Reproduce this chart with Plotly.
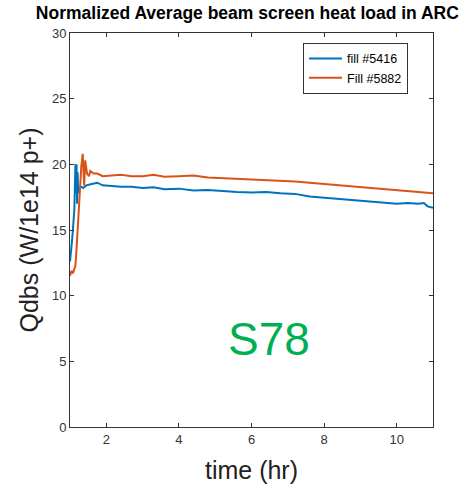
import plotly.graph_objects as go

t_5416 = [1.00, 1.03, 1.06, 1.09, 1.12, 1.15, 1.165, 1.18, 1.195, 1.21, 1.225, 1.25, 1.30, 1.36,
          1.45, 1.60, 1.75, 1.90, 2.10, 2.40, 2.70, 3.00, 3.30, 3.60, 4.00, 4.40, 4.80, 5.20,
          5.60, 6.00, 6.40, 6.80, 7.20, 7.60, 8.00, 8.40, 8.80, 9.20, 9.60, 10.00, 10.30,
          10.60, 10.75, 10.85, 11.00]
q_5416 = [12.6, 13.3, 14.3, 15.4, 16.6, 20.0, 17.8, 20.0, 17.0, 19.4, 17.8, 18.2, 18.3, 18.2,
          18.4, 18.5, 18.6, 18.4, 18.35, 18.3, 18.3, 18.2, 18.25, 18.1, 18.15, 18.0, 18.05,
          17.95, 17.9, 17.85, 17.9, 17.8, 17.75, 17.55, 17.45, 17.35, 17.25, 17.2, 17.1, 17.0,
          17.05, 17.0, 17.05, 16.8, 16.7]

t_5882 = [1.00, 1.04, 1.08, 1.12, 1.15, 1.19, 1.23, 1.27, 1.31, 1.35, 1.39, 1.42, 1.47, 1.52,
          1.56, 1.65, 1.75, 1.90, 2.10, 2.40, 2.70, 3.00, 3.30, 3.60, 4.00, 4.40, 4.80, 5.20,
          5.60, 6.00, 6.40, 6.80, 7.20, 7.60, 8.00, 8.40, 8.80, 9.20, 9.60, 10.00, 10.40,
          10.70, 11.00]
q_5882 = [11.5, 11.9, 11.7, 12.0, 12.3, 14.0, 16.1, 18.3, 19.8, 20.8, 18.4, 20.3, 19.3, 19.1,
          19.5, 19.3, 19.3, 19.1, 19.15, 19.2, 19.1, 19.1, 19.2, 19.05, 19.1, 19.15, 19.0,
          18.95, 18.9, 18.85, 18.85, 18.75, 18.7, 18.6, 18.5, 18.4, 18.35, 18.2, 18.1, 18.0,
          17.95, 17.85, 17.8]

x_ticks = [2, 4, 6, 8, 10]
y_ticks = [0, 5, 10, 15, 20, 25, 30]

FONT = "Arial, Liberation Sans"

fig = go.Figure()
fig.add_trace(go.Scatter(x=t_5416, y=q_5416, mode="lines", name="fill #5416",
                         line=dict(color="#0072BD", width=2)))
fig.add_trace(go.Scatter(x=t_5882, y=q_5882, mode="lines", name="Fill #5882",
                         line=dict(color="#D95319", width=2)))

fig.add_annotation(x=6.49, y=6.67, text="S78", showarrow=False,
                   font=dict(size=46, color="#00B050", family=FONT))

axis_common = dict(showgrid=False, zeroline=False, showline=True, linecolor="#333333",
                   linewidth=1, mirror="ticks", ticks="inside", ticklen=4,
                   tickcolor="#333333",
                   tickfont=dict(size=13, color="#333333", family=FONT))

fig.update_layout(
    width=465, height=491,
    paper_bgcolor="white", plot_bgcolor="white",
    margin=dict(l=70, r=32, t=33, b=62),
    title=dict(text="<b>Normalized Average beam screen heat load in ARC</b>",
               x=0.532, xanchor="center", y=0.973, yanchor="middle",
               font=dict(size=17.5, color="black", family=FONT)),
    xaxis=dict(range=[1, 11], tickvals=x_ticks,
               title=dict(text="time (hr)", standoff=15,
                          font=dict(size=25, color="#222222", family=FONT)),
               **axis_common),
    yaxis=dict(range=[0, 30], tickvals=y_ticks,
               title=dict(text="Qdbs (W/1e14 p+)", standoff=6,
                          font=dict(size=25, color="#222222", family=FONT)),
               **axis_common),
    legend=dict(x=0.642, y=0.975, xanchor="left", yanchor="top",
                bgcolor="white", bordercolor="#333333", borderwidth=1,
                font=dict(size=12.5, color="black", family=FONT),
                itemwidth=33, tracegroupgap=0),
    showlegend=True,
)

fig.write_html("out.html")
